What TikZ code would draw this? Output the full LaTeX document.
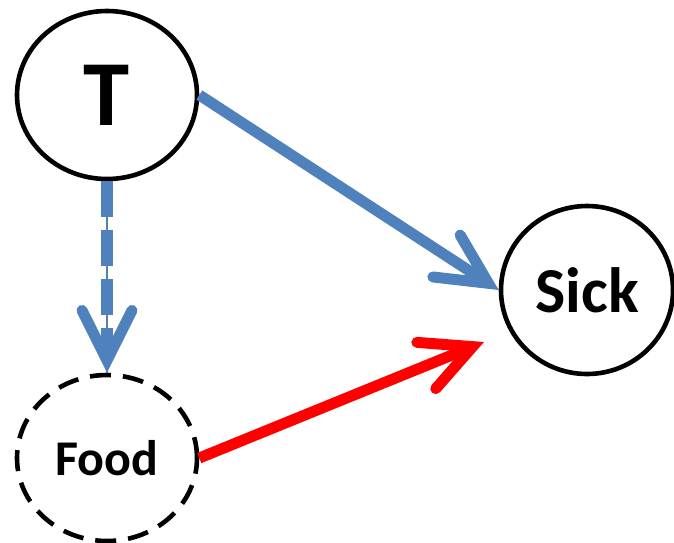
\documentclass[tikz,border=0pt]{standalone}
\usepackage{fontspec}
\setmainfont{Carlito}
\usetikzlibrary{shapes.geometric,arrows.meta}
\definecolor{edgeblue}{HTML}{4F81BD}
\definecolor{edgered}{HTML}{FF0000}
\begin{document}
\begin{tikzpicture}[x=1pt,y=-1pt,
  var/.style={ellipse, draw=black, line width=4.6pt, inner sep=0pt},
  barb/.style={-{Straight Barb[length=50pt,width=50pt,line width=11pt,line cap=round,line join=miter]}},
  link/.style={line width=11pt, line cap=butt, barb},
]
\useasboundingbox (0,0) rectangle (674,542);

% variables
\node[var, minimum width=180pt, minimum height=168pt,
      font=\bfseries\fontsize{93}{93}\selectfont] (T) at (107,95) {T};
\node[var, minimum width=172pt, minimum height=168pt,
      font=\bfseries\fontsize{64}{64}\selectfont] (Sick) at (587,290) {Sick};
\node[var, dash pattern=on 21pt off 12pt, minimum width=180pt, minimum height=166pt,
      font=\bfseries\fontsize{50}{50}\selectfont] (Food) at (107,458) {\raisebox{-4pt}{Food}};

% free end of the red arrow
\coordinate (redtip) at (484,342);

% T -> Sick
\draw[link, edgeblue] (T.east) -- (Sick.west);
% T -> Food (dashed, thin core line through the gaps)
\draw[edgeblue, line width=2.2pt] (T.south) -- (Food.north);
\draw[link, edgeblue, line width=12.5pt, dash pattern=on 36pt off 13pt] (T.south) -- (Food.north);
% Food -> Sick
\draw[link, edgered] (Food.east) -- (redtip);
\end{tikzpicture}
\end{document}
